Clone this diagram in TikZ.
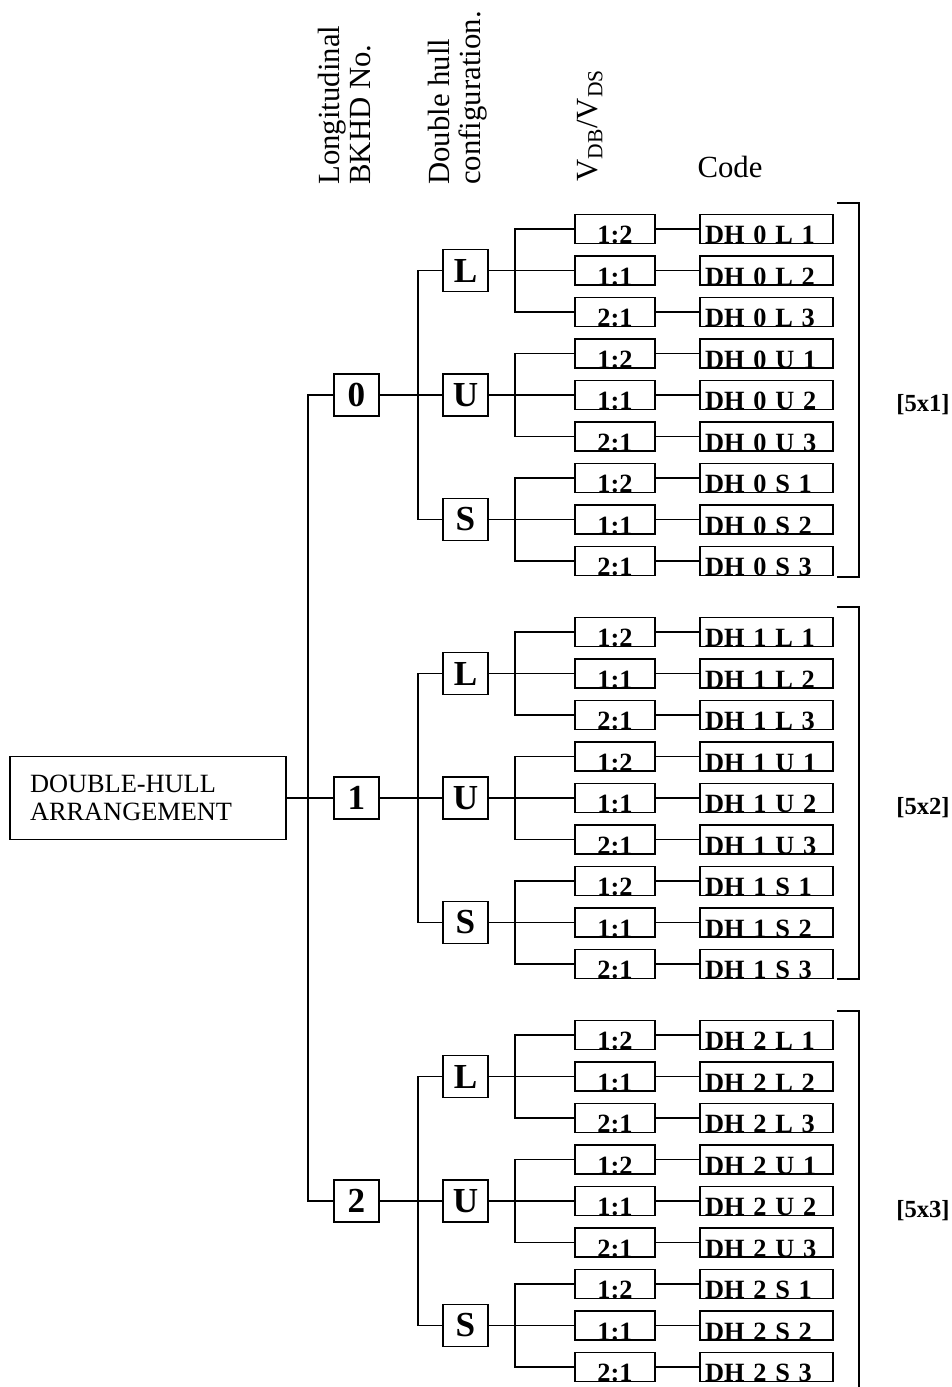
\documentclass[tikz,border=0pt]{standalone}
\usepackage{fontspec}
\setmainfont{Liberation Serif}
\tikzset{
  box/.style={draw,line width=1pt,rectangle,inner sep=0pt},
  lvlbox/.style={box,minimum width=0.9cm,minimum height=0.84cm,font=\fontsize{20}{20}\selectfont\bfseries},
  ratiobox/.style={box,minimum width=1.6cm,text height=0.58cm,text depth=0pt,font=\fontsize{15}{15}\selectfont\bfseries},
  codebox/.style={box,text width=2.46cm,inner xsep=0.1cm,text height=0.58cm,text depth=0pt,align=left,font=\fontsize{15}{15}\selectfont\bfseries},
  wire/.style={line width=1pt},
  head/.style={font=\fontsize{17.5}{17.6}\selectfont,align=left,inner sep=0pt}
}
\begin{document}
\begin{tikzpicture}[x=0.02cm,y=-0.02cm]
\useasboundingbox (0,0) rectangle (951,1387);
\node[head,rotate=90,anchor=west] (hbkhd) at (345,185) {Longitudinal\\BKHD No.};
\node[head,rotate=90,anchor=west] (hcfg) at (458,185) {Double hull\\configuration.};
\node[head,rotate=90,anchor=west] (hvol) at (590,182) {V\textsubscript{DB}/V\textsubscript{DS}};
\node[head] (hcode) at (730,167) {Code};
\node[box,minimum height=1.66cm,text width=4.72cm,inner xsep=0.4cm,align=left,font=\fontsize{15}{15.5}\selectfont] (dha) at (148,798) {DOUBLE-HULL\\ARRANGEMENT};
\foreach \g in {0,1,2}{
  \pgfmathsetmacro\gy{229+403*\g}
  \pgfmathtruncatemacro\gn{\g+1}
  \node[lvlbox] (b\g) at (356.5,\gy+166) {\g};
  \foreach \cfg [count=\ni from 0] in {L,U,S}{
    \node[lvlbox] (c\g\cfg) at (465.5,{\gy+41.5*(3*\ni+1)}) {\cfg};
    \foreach \rat/\nr [count=\nj from 0] in {1:2/1,1:1/2,2:1/3}{
      \node[ratiobox] (r\g\cfg\nr) at (615,{\gy+41.5*(3*\ni+\nj)}) {\rat};
      \node[codebox] (k\g\cfg\nr) at (766.5,{\gy+41.5*(3*\ni+\nj)}) {DH \g{} \cfg{} \nr};
      \draw[wire] (r\g\cfg\nr.east) -- (k\g\cfg\nr.west);
    }
    \draw[wire] (r\g\cfg1.west) -- ++(-59,0) |- (r\g\cfg3.west);
    \draw[wire] (c\g\cfg.east) -- (r\g\cfg2.west);
  }
  \draw[wire] (c\g L.west) -- ++(-24,0) |- (c\g S.west);
  \draw[wire] (b\g.east) -- (c\g U.west);
  \node[font=\fontsize{14}{14}\selectfont\bfseries] (sz\g) at (923,\gy+176) {[5x\gn]};
}
\draw[wire] (b0.west) -- ++(-25,0) |- (b2.west);
\draw[wire] (dha.east) -- (b1.west);
\draw[wire] (837,203) -- (859,203) -- (859,577) -- (837,577);
\draw[wire] (837,607) -- (859,607) -- (859,979) -- (837,979);
\draw[wire] (837,1011) -- (859,1011) -- (859,1387);
\end{tikzpicture}
\end{document}
